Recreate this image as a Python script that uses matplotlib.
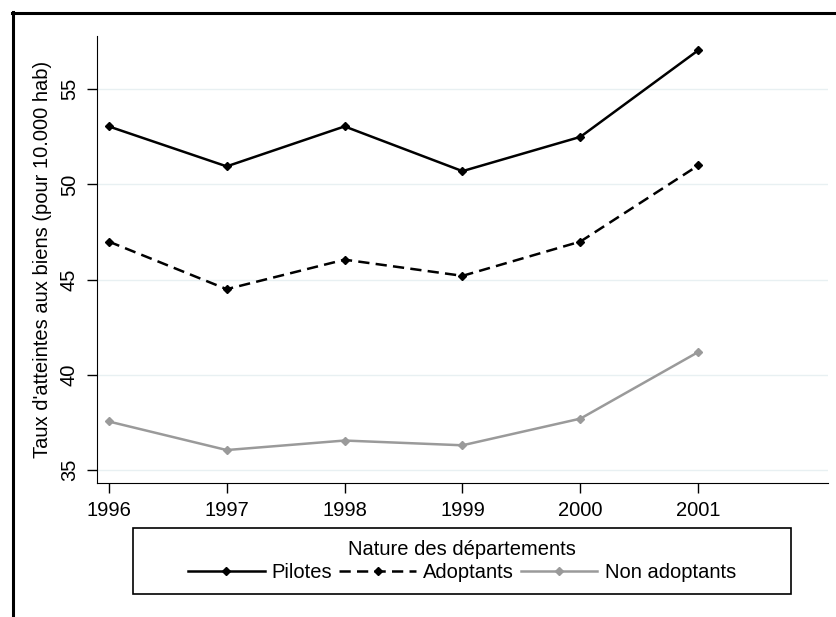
import matplotlib
matplotlib.use('Agg')
import matplotlib.pyplot as plt
from matplotlib.lines import Line2D
from matplotlib.patches import Rectangle

plt.rcParams['font.family'] = ['Liberation Sans', 'DejaVu Sans']

#values
years = [1996, 1997, 1998, 1999, 2000, 2001]
pilotes = [53.05, 50.95, 53.05, 50.7, 52.5, 57.05]
adoptants = [47.0, 44.5, 46.05, 45.2, 47.0, 51.0]
non_adoptants = [37.55, 36.05, 36.55, 36.3, 37.7, 41.2]
y_ticks = [35, 40, 45, 50, 55]
y_label = "Taux d'atteintes aux biens (pour 10.000 hab)"
legend_title = 'Nature des départements'

fs = 14.5
fig = plt.figure(figsize=(8.37, 6.17), dpi=100)
ax = fig.add_axes([0.1159, 0.2172, 0.8733, 0.7245])

ax.plot(years, pilotes, color='black', lw=1.8, marker='D', ms=4.5, label='Pilotes')
ax.plot(years, adoptants, color='black', lw=1.8, marker='D', ms=4.5, dashes=(4.5, 2.5), label='Adoptants')
ax.plot(years, non_adoptants, color='#9a9a9a', lw=1.8, marker='D', ms=4.5, label='Non adoptants')

ax.set_xlim(1995.9, 2002.1)
ax.set_ylim(34.32, 57.8)
ax.set_xticks(years)
ax.set_yticks(y_ticks)
ax.grid(axis='y', color='#e8f0f2', lw=1)
ax.set_axisbelow(True)
for s in ['top', 'right']:
    ax.spines[s].set_visible(False)
ax.tick_params(axis='both', labelsize=fs, length=7, width=1)
ax.tick_params(axis='x', pad=6)
ax.tick_params(axis='y', pad=6)
for lab in ax.get_yticklabels():
    lab.set_rotation(90)
    lab.set_va('center')
ax.set_ylabel(y_label, fontsize=fs, labelpad=6)

#legend box below the plot
fig.add_artist(Rectangle((133 / 837, 1 - 594 / 617), (791 - 133) / 837, (594 - 528) / 617,
                         transform=fig.transFigure, fill=False, ec='black', lw=1.2))
fig.legend(loc='center', bbox_to_anchor=(462 / 837, 1 - 561 / 617), ncol=3, frameon=False,
           title=legend_title, title_fontsize=fs, fontsize=fs, handlelength=3.8,
           handletextpad=0.35, columnspacing=0.35, borderpad=0.2, labelspacing=0.2)

#outer frame (top and left edges only visible)
fig.add_artist(Line2D([12 / 837, 1], [1 - 13 / 617, 1 - 13 / 617], transform=fig.transFigure, color='black', lw=2.2))
fig.add_artist(Line2D([13 / 837, 13 / 837], [0, 1 - 12 / 617], transform=fig.transFigure, color='black', lw=2.2))

fig.savefig('out.png', dpi=100)
